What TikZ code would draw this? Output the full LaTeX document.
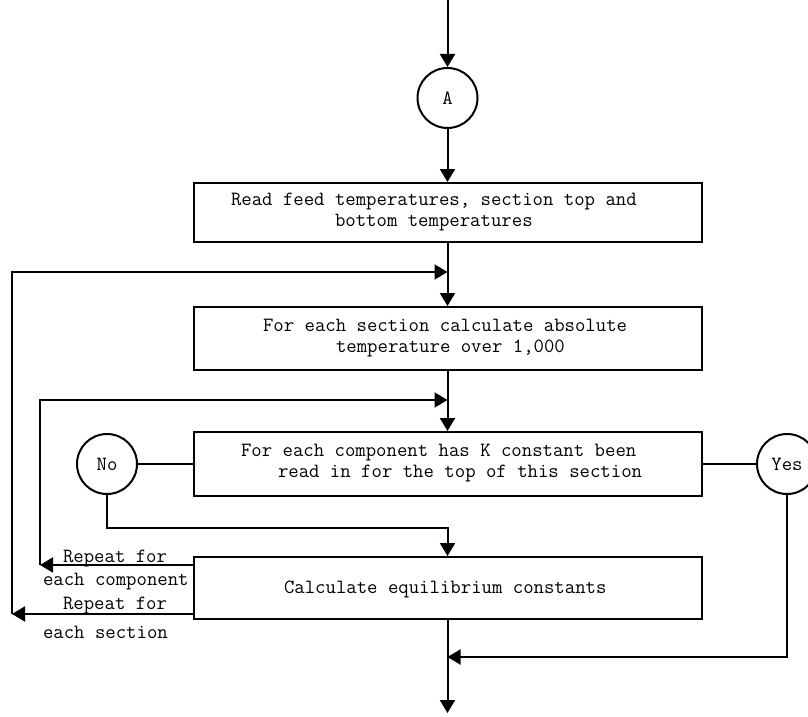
\documentclass[tikz,border=0pt]{standalone}
\usetikzlibrary{arrows.meta}
\begin{document}
\begin{tikzpicture}[x=1pt,y=-1pt,
  line width=2pt,
  tt/.style={font=\ttfamily\fontsize{20.2}{21}\selectfont},
  arr/.style={-{Triangle[width=15pt,length=13pt]}},
  proc/.style={draw, rectangle, minimum width=508pt, inner sep=0pt},
  conn/.style={draw, circle, minimum size=60pt, inner sep=0pt, tt},
  txt/.style={tt, inner sep=0pt, align=left, anchor=west},
  lbl/.style={tt, inner sep=0pt, anchor=base west}]

% page area
\fill[white] (0,0) rectangle (808,717);
\useasboundingbox (0,0) rectangle (808,717);

% connector circles and process boxes
\node[conn] (A) at (447.5,98) {A};
\node[proc, minimum height=59pt] (b1) at (447.5,212.5) {};
\node[txt] (t1) at (230,212.5) {Read feed temperatures, section top and\\\hspace*{104pt}bottom temperatures};
\node[proc, minimum height=63pt] (b2) at (447.5,338.5) {};
\node[txt] (t2) at (262,338.5) {For each section calculate absolute\\\hspace*{73pt}temperature over 1,000};
\node[proc, minimum height=64pt] (b3) at (447.5,464) {};
\node[txt] (t3) at (240,463) {For each component has K constant been\\\hspace*{37pt}read in for the top of this section};
\node[proc, minimum height=62pt] (b4) at (447.5,588) {};
\node[txt] (t4) at (283,589) {Calculate equilibrium constants};
\node[conn] (no) at (107,464) {No};
\node[conn] (yes) at (787,464) {Yes};

% loop labels
\node[lbl] (r1) at (62,562) {Repeat for};
\node[lbl] (c1) at (42,585) {each component};
\node[lbl] (r2) at (62,609) {Repeat for};
\node[lbl] (c2) at (42,638) {each section};

% free ends and bends
\coordinate (src) at (447.5,0);
\coordinate (out) at (447.5,713);
\coordinate (oL) at (12,614);
\coordinate (oT) at (12,272);
\coordinate (oM) at (447.5,272);
\coordinate (iL) at (40,565);
\coordinate (iT) at (40,400);
\coordinate (iM) at (447.5,400);
\coordinate (nJ) at (447.5,528);
\coordinate (yJ) at (447.5,657);

% main flow
\draw[arr] (src) -- (A.north);
\draw[arr] (A.south) -- (b1.north);
\draw[arr] (b1.south) -- (b2.north);
\draw[arr] (b2.south) -- (b3.north);
\draw[arr] (b4.south) -- (out);

% repeat loops
\draw[arr] (b4.west |- oL) -- (oL);
\draw[arr] (oL) -- (oT) -- (oM);
\draw[arr] (b4.west |- iL) -- (iL);
\draw[arr] (iL) -- (iT) -- (iM);

% decision branches
\draw (no.east) -- (b3.west);
\draw[arr] (no.south) |- (nJ) -- (b4.north);
\draw (b3.east) -- (yes.west);
\draw[arr] (yes.south) |- (yJ);
\end{tikzpicture}
\end{document}
